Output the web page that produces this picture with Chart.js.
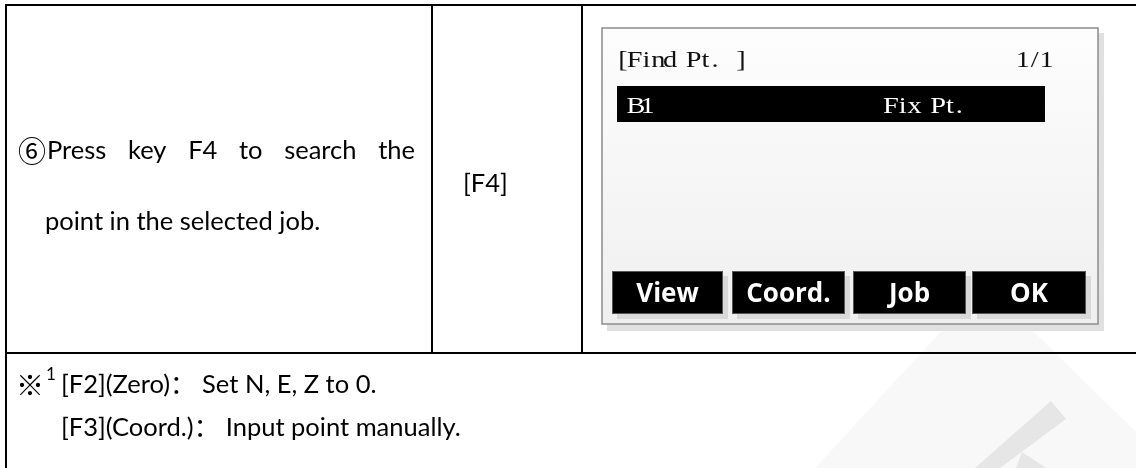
<!DOCTYPE html>
<html>
<head>
<meta charset="utf-8">
<script src="https://cdn.jsdelivr.net/npm/chart.js@4.4.1/dist/chart.umd.min.js"></script>
<style>
  html, body { margin: 0; padding: 0; background: #fff; }
  #wrap { width: 1136px; height: 468px; position: relative; }
</style>
</head>
<body>
<div id="wrap"><canvas id="page"></canvas></div>
<script>
// text content of the manual page
const stepMark = '⑥';
const stepLines = ['Press key F4 to search the', 'point in the selected job.'];
const keyLabel = '[F4]';
const screenTitle = '[Find Pt. ]';
const screenPage = '1/1';
const listRows = [['B1', 'Fix Pt.']];
const softKeys = ['View', 'Coord.', 'Job', 'OK'];
const noteMark = '※';
const noteSup = '1';
const noteLines = ['[F2](Zero)： Set N, E, Z to 0.', '[F3](Coord.)： Input point manually.'];

const bodyFont = 'Lato, "Noto Sans CJK SC", sans-serif';
const lcdFont = '"Liberation Serif", serif';
const keyFont = '"Open Sans", sans-serif';

// fixed-pitch line, glyphs a bit wider (looks like the LCD font)
function monoText(c, str, x, y, adv) {
  for (let i = 0; i < str.length; i++) {
    const w = c.measureText(str[i]).width * 1.18;
    // the period sits to the left of its cell
    const off = str[i] === '.' ? 0 : (adv - w) / 2;
    c.save();
    c.translate(x + i * adv + off, y);
    c.scale(1.18, 1);
    c.fillText(str[i], 0, 0);
    c.restore();
  }
}

// justified line: spread the words between x0 and x1
function justify(c, str, x0, x1, y) {
  const words = str.split(' ');
  const total = words.reduce((s, w) => s + c.measureText(w).width, 0);
  const gap = (x1 - x0 - total) / (words.length - 1);
  let x = x0;
  words.forEach(w => {
    c.fillText(w, x, y);
    x += c.measureText(w).width + gap;
  });
}

const pagePlugin = {
  id: 'manualPage',
  afterDraw(chart) {
    const c = chart.ctx;
    const X = v => chart.scales.x.getPixelForValue(v);
    const Y = v => chart.scales.y.getPixelForValue(v);
    c.save();

    // faint watermark, bottom right
    c.fillStyle = '#f8f8f8';
    c.beginPath();
    c.moveTo(X(985), Y(284)); c.lineTo(X(1136), Y(432)); c.lineTo(X(1136), Y(468)); c.lineTo(X(815), Y(468));
    c.closePath(); c.fill();
    c.fillStyle = '#e6e6e6';
    c.beginPath();
    c.moveTo(X(1051), Y(401)); c.lineTo(X(1066), Y(419)); c.lineTo(X(1000), Y(468)); c.lineTo(X(975), Y(468));
    c.closePath(); c.fill();
    c.beginPath();
    c.moveTo(X(1022), Y(452)); c.lineTo(X(1046), Y(468)); c.lineTo(X(1016), Y(468));
    c.closePath(); c.fill();

    // table rules
    c.strokeStyle = '#000';
    c.lineWidth = 2;
    c.beginPath();
    c.moveTo(X(5), Y(5)); c.lineTo(X(1136), Y(5));
    c.moveTo(X(6), Y(4)); c.lineTo(X(6), Y(468));
    c.moveTo(X(432), Y(5)); c.lineTo(X(432), Y(353));
    c.moveTo(X(582), Y(5)); c.lineTo(X(582), Y(353));
    c.moveTo(X(5), Y(353)); c.lineTo(X(1136), Y(353));
    c.stroke();

    // step text
    c.fillStyle = '#000';
    c.textBaseline = 'alphabetic';
    c.font = '28px "Noto Sans CJK SC", "DejaVu Sans", sans-serif';
    c.fillText(stepMark, X(18), Y(162));
    c.font = '25.5px ' + bodyFont;
    justify(c, stepLines[0], X(47), X(415), Y(159));
    c.fillText(stepLines[1], X(45), Y(230));
    c.fillText(keyLabel, X(463), Y(192));

    // LCD screen
    c.fillStyle = '#e0e0e0';
    c.fillRect(X(607), Y(33), X(1104) - X(607), Y(331) - Y(33));
    const g = c.createLinearGradient(0, Y(28), 0, Y(324));
    g.addColorStop(0, '#fdfdfd');
    g.addColorStop(1, '#efefef');
    c.fillStyle = g;
    c.fillRect(X(602), Y(28), X(1098) - X(602), Y(324) - Y(28));
    c.strokeStyle = '#8c8c8c';
    c.lineWidth = 1.5;
    c.strokeRect(X(602), Y(28), X(1098) - X(602), Y(324) - Y(28));

    c.fillStyle = '#111';
    c.font = '24px ' + lcdFont;
    monoText(c, screenTitle, X(617), Y(67), 11.8);
    monoText(c, screenPage, X(1017), Y(67), 11.8);

    listRows.forEach((r, i) => {
      const top = 86 + i * 36;
      c.fillStyle = '#000';
      c.fillRect(X(617), Y(top), X(1045) - X(617), 36);
      c.fillStyle = '#fff';
      monoText(c, r[0], X(630), Y(top + 27), 11.8);
      monoText(c, r[1], X(885), Y(top + 27), 11.8);
    });

    // soft keys
    const keyX = [[612, 723], [732, 845], [853, 966], [972, 1086]];
    softKeys.forEach((k, i) => {
      const [a, b] = keyX[i];
      c.fillStyle = '#d9d9d9';
      c.fillRect(X(a + 5), Y(276), X(b + 5) - X(a + 5), Y(319) - Y(276));
      c.fillStyle = '#000';
      c.fillRect(X(a), Y(271), X(b) - X(a), Y(314) - Y(271));
      c.strokeStyle = '#555';
      c.lineWidth = 1;
      c.strokeRect(X(a) + 0.5, Y(271) + 0.5, X(b) - X(a) - 1, Y(314) - Y(271) - 1);
      c.fillStyle = '#fff';
      c.font = 'bold 26px ' + keyFont;
      c.textAlign = 'center';
      c.fillText(k, (X(a) + X(b)) / 2, Y(302));
      c.textAlign = 'left';
    });

    // footnote
    c.fillStyle = '#000';
    c.font = '28px "Noto Sans CJK SC", sans-serif';
    c.fillText(noteMark, X(16), Y(396));
    c.font = '17px ' + bodyFont;
    c.fillText(noteSup, X(46), Y(380));
    c.font = '25.5px ' + bodyFont;
    c.fillText(noteLines[0], X(61), Y(393));
    c.fillText(noteLines[1], X(61), Y(436));

    c.restore();
  }
};

const ctx = document.getElementById('page');
new Chart(ctx, {
  type: 'scatter',
  data: { datasets: [] },
  options: {
    responsive: true,
    maintainAspectRatio: false,
    animation: false,
    events: [],
    layout: { padding: 0 },
    plugins: { legend: { display: false }, tooltip: { enabled: false } },
    scales: {
      x: { type: 'linear', min: 0, max: 1136, display: false },
      y: { type: 'linear', min: 0, max: 468, reverse: true, display: false }
    }
  },
  plugins: [pagePlugin]
});
</script>
</body>
</html>
